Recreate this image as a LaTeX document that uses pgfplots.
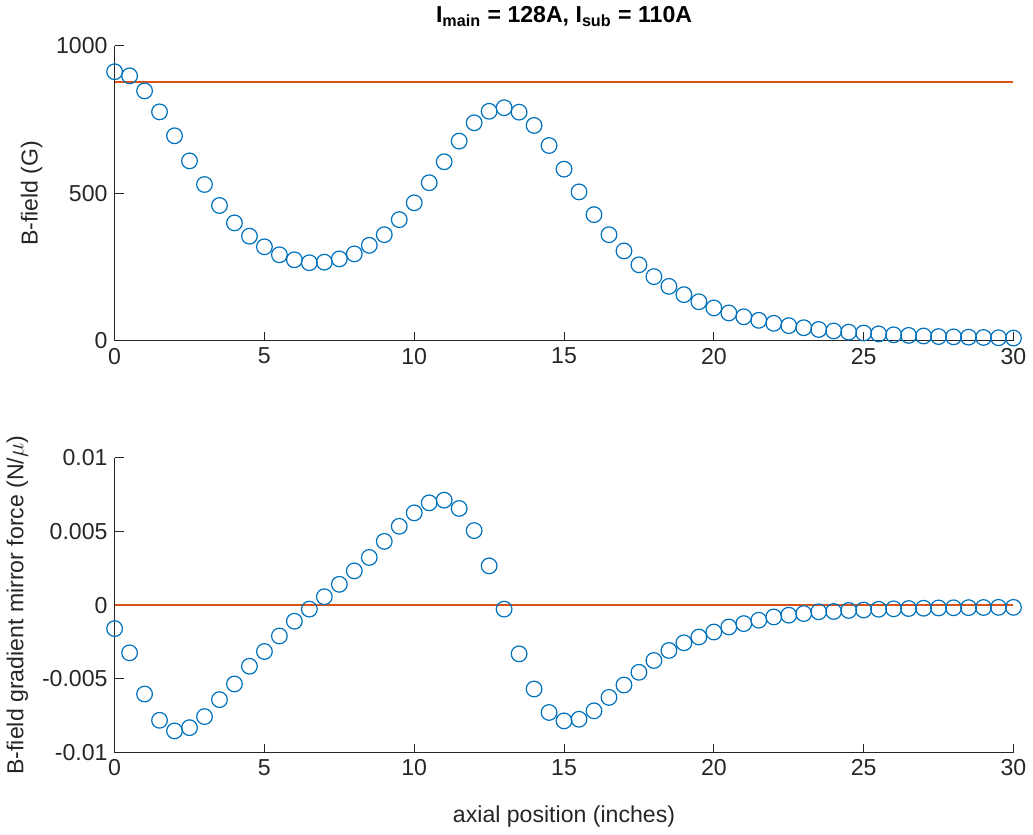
\documentclass[border=0pt]{standalone}
\usepackage{pgfplots}
\pgfplotsset{compat=1.18}
\usepackage{pgfplotstable}
\usepackage{fontspec}
\setmainfont{Liberation Sans}
\definecolor{mlBlue}{RGB}{0,114,189}
\definecolor{mlOrange}{RGB}{217,83,25}
\definecolor{mlAxis}{RGB}{38,38,38}

\pgfplotstableread{
x B
0 912
0.5 898
1 847
1.5 776
2 695
2.5 610
3 530
3.5 459
4 400
4.5 355
5 319
5.5 292
6 275
6.5 265
7 267
7.5 278
8 295
8.5 324
9 360
9.5 411
10 468
10.5 536
11 607
11.5 677
12 739
12.5 778
13 790
13.5 775
14 730
14.5 662
15 582
15.5 505
16 428
16.5 360
17 305
17.5 258
18 218
18.5 185
19 157
19.5 133
20 112
20.5 95
21 82
21.5 70
22 60
22.5 52
23 45
23.5 39
24 34
24.5 30
25 27
25.5 24
26 21
26.5 19
27 17
27.5 15
28 14
28.5 13
29 12
29.5 11
30 10
}\fieldtable

\pgfplotstableread{
x F
0 -0.00159
0.5 -0.00323
1 -0.00602
1.5 -0.00780
2 -0.00852
2.5 -0.00830
3 -0.00755
3.5 -0.00640
4 -0.00534
4.5 -0.00414
5 -0.00314
5.5 -0.00209
6 -0.00109
6.5 -0.00027
7 0.00057
7.5 0.00141
8 0.00232
8.5 0.00323
9 0.00432
9.5 0.00534
10 0.00625
10.5 0.00693
11 0.00711
11.5 0.00655
12 0.00505
12.5 0.00266
13 -0.00027
13.5 -0.00330
14 -0.00568
14.5 -0.00727
15 -0.00784
15.5 -0.00773
16 -0.00716
16.5 -0.00625
17 -0.00541
17.5 -0.00455
18 -0.00375
18.5 -0.00307
19 -0.00255
19.5 -0.00216
20 -0.00182
20.5 -0.00148
21 -0.00125
21.5 -0.00102
22 -0.00080
22.5 -0.00068
23 -0.00057
23.5 -0.00045
24 -0.00043
24.5 -0.00036
25 -0.00033
25.5 -0.00028
26 -0.00025
26.5 -0.00023
27 -0.00021
27.5 -0.00019
28 -0.00018
28.5 -0.00017
29 -0.00016
29.5 -0.00015
30 -0.00015
}\forcetable

\begin{document}
\begin{tikzpicture}[font=\fontsize{11.5}{13.5}\selectfont]

\pgfplotsset{
    mlstyle/.style={
        width=447.5pt,
        height=147pt,
        scale only axis,
        anchor=south west,
        xmin=0, xmax=30,
        xtick={0,5,...,30},
        axis x line=bottom,
        axis y line=left,
        axis line style={-,draw=mlAxis,line width=0.5pt},
        every tick/.style={draw=mlAxis,line width=0.5pt},
        major tick length=4.5pt,
        tick align=inside,
        tick label style={text=mlAxis},
        label style={text=mlAxis},
        scaled y ticks=false,
        /pgf/number format/1000 sep={},
        /pgf/number format/assume math mode=true,
        clip=false
    },
    mlmarks/.style={
        only marks,
        mark=o,
        mark size=3.9pt,
        mlBlue,
        line width=0.6pt
    },
    mlline/.style={
        draw=mlOrange,
        line width=0.8pt,
        no marks
    }
}

% top panel: field strength
\begin{axis}[
    mlstyle,
    at={(0,205pt)},
    ymin=0, ymax=1000,
    ytick={0,500,1000},
    ylabel={B-field (G)},
    title={\textbf{I\textsubscript{main} = 128A, I\textsubscript{sub} = 110A}},
    title style={yshift=0pt}
]
\addplot[mlmarks] table[x=x,y=B] {\fieldtable};
\addplot[mlline] coordinates {(0,877) (30,877)};
\end{axis}

% bottom panel: mirror force
\begin{axis}[
    mlstyle,
    at={(0,0)},
    ymin=-0.01, ymax=0.01,
    ytick={-0.01,-0.005,0,0.005,0.01},
    yticklabels={-0.01,-0.005,0,0.005,0.01},
    ylabel={B-field gradient mirror force (N/$\mu$)},
    xlabel={axial position (inches)},
    xlabel style={yshift=-8pt}
]
\addplot[mlmarks] table[x=x,y=F] {\forcetable};
\addplot[mlline] coordinates {(0,0) (30,0)};
\end{axis}

\end{tikzpicture}
\end{document}
